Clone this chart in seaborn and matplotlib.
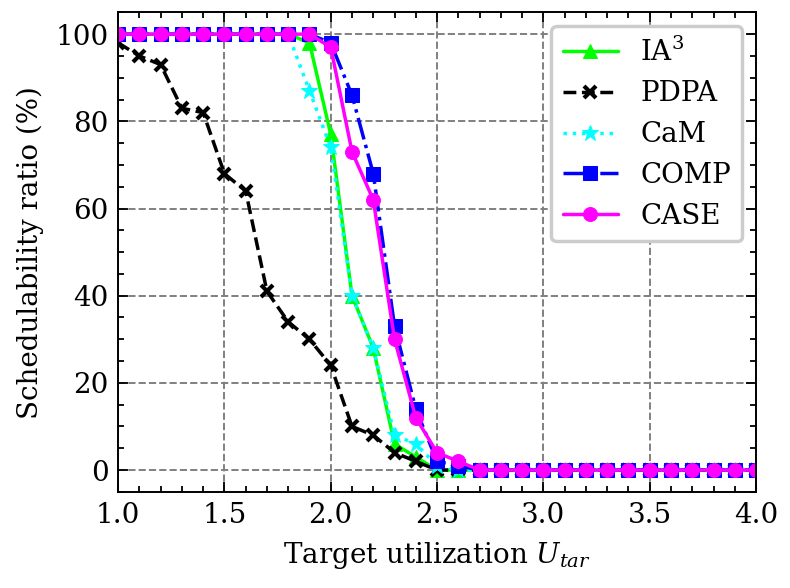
import numpy as np
import pandas as pd
import matplotlib
matplotlib.use('Agg')
import matplotlib.pyplot as plt
from matplotlib.ticker import MultipleLocator
import seaborn as sns

# ─── data ────────────────────────────────────────────────────────────────────
u_tar = [1.0, 1.1, 1.2, 1.3, 1.4, 1.5, 1.6, 1.7, 1.8, 1.9, 2.0, 2.1, 2.2, 2.3, 2.4, 2.5,
         2.6, 2.7, 2.8, 2.9, 3.0, 3.1, 3.2, 3.3, 3.4, 3.5, 3.6, 3.7, 3.8, 3.9, 4.0]

ia3  = [100, 100, 100, 100, 100, 100, 100, 100, 100, 98, 77, 40, 28, 6, 3, 0,
        0, 0, 0, 0, 0, 0, 0, 0, 0, 0, 0, 0, 0, 0, 0]
pdpa = [98, 95, 93, 83, 82, 68, 64, 41, 34, 30, 24, 10, 8, 4, 2, 0,
        0, 0, 0, 0, 0, 0, 0, 0, 0, 0, 0, 0, 0, 0, 0]
cam  = [100, 100, 100, 100, 100, 100, 100, 100, 100, 87, 74, 40, 28, 8, 6, 1,
        0, 0, 0, 0, 0, 0, 0, 0, 0, 0, 0, 0, 0, 0, 0]
comp = [100, 100, 100, 100, 100, 100, 100, 100, 100, 100, 98, 86, 68, 33, 14, 2,
        1, 0, 0, 0, 0, 0, 0, 0, 0, 0, 0, 0, 0, 0, 0]
case = [100, 100, 100, 100, 100, 100, 100, 100, 100, 100, 97, 73, 62, 30, 12, 4,
        2, 0, 0, 0, 0, 0, 0, 0, 0, 0, 0, 0, 0, 0, 0]

labels = ['IA$^3$', 'PDPA', 'CaM', 'COMP', 'CASE']
series = [ia3, pdpa, cam, comp, case]
colors = ['#00ff00', 'black', '#00ffff', '#0000ff', '#ff00ff']
markers = ['^', 'x', '*', 's', 'o']
styles = ['-', '--', ':', '-.', '-']
msizes = {'^': 10, 'x': 8, '*': 12, 's': 9.5, 'o': 10}

# ─── style ───────────────────────────────────────────────────────────────────
sns.set_style('ticks')
plt.rcParams['font.family'] = ['DejaVu Serif']
plt.rcParams['mathtext.fontset'] = 'dejavuserif'
plt.rcParams['font.size'] = 20
for k in ['text.color', 'axes.labelcolor', 'xtick.color', 'ytick.color', 'axes.edgecolor']:
    plt.rcParams[k] = 'black'

fig = plt.figure(figsize=(7.9, 5.88), dpi=100)
ax = fig.add_axes([0.1495, 0.1635, 0.8075, 0.8155])

for lab, vals, c, m, ls in zip(labels, series, colors, markers, styles):
    df = pd.DataFrame({'u': u_tar, 'ratio': vals})
    kw = dict(markersize=msizes[m])
    if m == 'x':
        kw.update(markeredgewidth=3)
    sns.lineplot(data=df, x='u', y='ratio', ax=ax, color=c, marker=m, linestyle=ls,
                 linewidth=2.5, markeredgecolor=c, label=lab, **kw)

ax.set_xlim(1.0, 4.0)
ax.set_ylim(-5, 105)
ax.xaxis.set_major_locator(MultipleLocator(0.5))
ax.xaxis.set_minor_locator(MultipleLocator(0.1))
ax.yaxis.set_major_locator(MultipleLocator(20))
ax.yaxis.set_minor_locator(MultipleLocator(5))
ax.tick_params(which='both', direction='in', top=True, right=True, width=1.3,
               labelsize=20, pad=7)
ax.tick_params(which='major', length=7.5)
ax.tick_params(which='minor', length=4)
for sp in ax.spines.values():
    sp.set_linewidth(1.4)
ax.grid(True, which='major', linestyle='--', color='gray', linewidth=1.4)

ax.set_xlabel('Target utilization $U_{tar}$', fontsize=20, labelpad=8)
ax.set_ylabel('Schedulability ratio (%)', fontsize=20, labelpad=8)

leg = ax.legend(loc='upper right', fontsize=20, frameon=True, fancybox=True,
                edgecolor='#cccccc', framealpha=1.0, handlelength=2.0,
                borderpad=0.4, labelspacing=0.5)
leg.get_frame().set_linewidth(2.5)

fig.savefig('out.png', dpi=100)
